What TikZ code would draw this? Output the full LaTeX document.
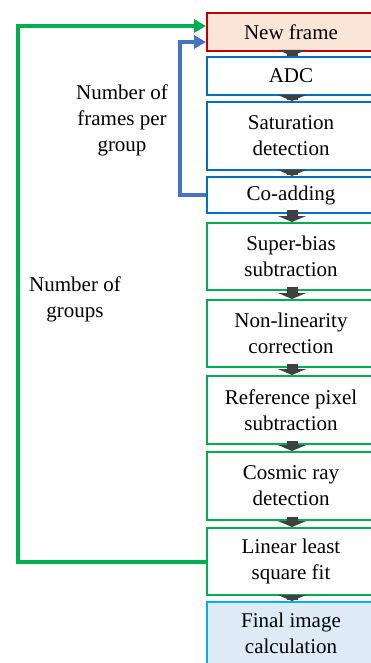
\documentclass[tikz,border=0pt]{standalone}
\usepackage{fontspec}
\setmainfont{Liberation Serif}
\usetikzlibrary{arrows.meta}
\definecolor{frameRed}{HTML}{C00000}
\definecolor{frameFill}{HTML}{FBE5D6}
\definecolor{stageBlue}{HTML}{0070C0}
\definecolor{stageGreen}{HTML}{00B050}
\definecolor{loopBlue}{HTML}{4472C4}
\definecolor{finalEdge}{HTML}{00B0F0}
\definecolor{finalFill}{HTML}{DEEBF7}
\definecolor{flowGray}{HTML}{404040}
\newcommand{\labelfont}{\fontsize{21}{26}\selectfont}
\tikzset{
  x=1pt, y=-1pt,
  stage/.style={draw, line width=2pt, anchor=north west, minimum width=168pt,
    align=center, inner sep=0pt, font=\labelfont},
  redstage/.style={stage, draw=frameRed, fill=frameFill},
  bluestage/.style={stage, draw=stageBlue, fill=white},
  greenstage/.style={stage, draw=stageGreen, fill=white},
  finalstage/.style={stage, draw=finalEdge, fill=finalFill},
  flow/.style={draw=flowGray, line width=11pt,
    -{Triangle[length=6pt,width=28pt]}, color=flowGray, shorten <=-4pt},
  loopline/.style={line width=4pt, -{Triangle[length=12pt,width=13pt]}},
  looplabel/.style={align=center, font=\labelfont, inner sep=0pt}
}
\begin{document}
\begin{tikzpicture}
\useasboundingbox (0,0) rectangle (371,663);
\begin{scope}
\clip (0,0) rectangle (371,663);
% processing stages
\node[redstage,   minimum height=38pt] (nf) at (206,12)  {New frame};
\node[bluestage,  minimum height=38pt] (adc) at (206,56) {ADC};
\node[bluestage,  minimum height=68pt] (sat) at (206,101) {Saturation\\detection};
\node[bluestage,  minimum height=36pt] (co) at (206,176) {Co-adding};
\node[greenstage, minimum height=67pt] (sb) at (206,222) {Super-bias\\subtraction};
\node[greenstage, minimum height=67pt] (nl) at (206,299) {Non-linearity\\correction};
\node[greenstage, minimum height=68pt] (rp) at (206,375) {Reference pixel\\subtraction};
\node[greenstage, minimum height=68pt] (cr) at (206,451) {Cosmic ray\\detection};
\node[greenstage, minimum height=67pt] (ll) at (206,527) {Linear least\\square fit};
\node[finalstage, minimum height=70pt, text depth=8pt] (fi) at (206,601) {Final image\\calculation};

% flow between stages
\foreach \a/\b in {nf/adc, adc/sat, sat/co, co/sb, sb/nl, nl/rp, rp/cr, cr/ll, ll/fi}
  \draw[flow] ([xshift=1pt]\a.south) -- ([xshift=1pt]\b.north);

% feedback loops
\coordinate (gx) at (18,0);
\coordinate (bx) at (180,0);
\draw[loopline, stageGreen] (ll.west) -- (ll.west -| gx) |- ([yshift=6pt]nf.west);
\draw[loopline, loopBlue] (co.west) -- (co.west -| bx) |- ([yshift=-10pt]nf.west);
\end{scope}

% loop labels
\node[looplabel] (lframes) at (122,120) {Number of\\frames per\\group};
\node[looplabel] (lgroups) at (75,299) {Number of\\groups};
\end{tikzpicture}
\end{document}
